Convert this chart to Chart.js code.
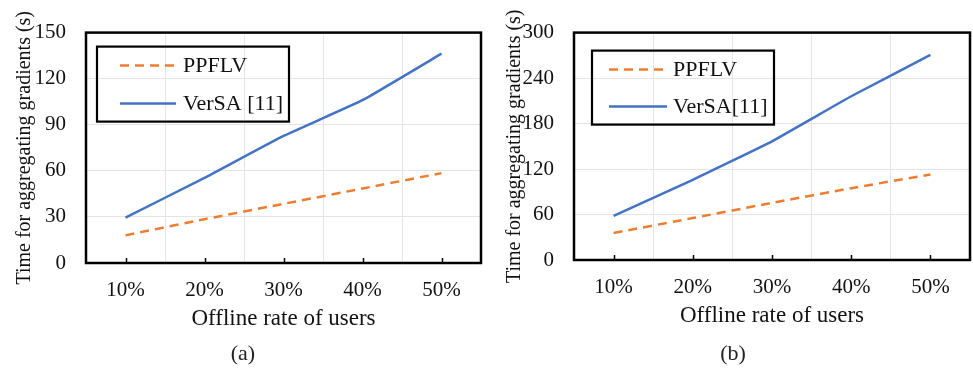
<!DOCTYPE html>
<html>
<head>
<meta charset="utf-8">
<script src="https://cdn.jsdelivr.net/npm/chart.js@4.4.0/dist/chart.umd.min.js"></script>
<style>
  body { margin: 0; background: #fff; }
  .wrap { position: absolute; top: 0; height: 370px; }
  .cap { position: absolute; top: 340px; width: 40px; text-align: center; font: 22px "Liberation Serif", serif; color: #222; }
</style>
</head>
<body>
<div class="wrap" style="left:0;width:486px"><canvas id="chartA"></canvas></div>
<div class="wrap" style="left:490px;width:483px"><canvas id="chartB"></canvas></div>
<div class="cap" style="left:223px">(a)</div>
<div class="cap" style="left:713px">(b)</div>
<script>
const categories = ['10%', '20%', '30%', '40%', '50%'];

// (a)
const ppflvA = [18, 28.5, 38.5, 48.5, 58.5];
const versaA = [29.6, 55.4, 82.7, 106, 136.3];
// (b)
const ppflvB = [35.7, 55.3, 75.4, 94.7, 112.8];
const versaB = [58.2, 105.8, 156.6, 216, 270.6];

const ORANGE = '#ED7D31';
const BLUE = '#4472C4';
const SERIF = '"Liberation Serif", "Times New Roman", serif';

/* Frame round the plot + small ticks at category centres + boxed legend */
const framePlugin = {
    id: 'frame',
    afterDraw(chart, args, opts) {
        const ctx = chart.ctx;
        const a = chart.chartArea;
        const x = chart.scales.x;
        ctx.save();
        ctx.strokeStyle = '#000';
        ctx.lineWidth = 1.5;
        x.ticks.forEach((t, i) => {
            const px = Math.round(x.getPixelForTick(i)) + 0.5;
            ctx.beginPath();
            ctx.moveTo(px, a.bottom);
            ctx.lineTo(px, a.bottom - 5);
            ctx.stroke();
        });
        ctx.lineWidth = 2.5;
        ctx.strokeRect(a.left, a.top, a.right - a.left, a.bottom - a.top);

        // legend
        const lg = opts.legend;
        const bx = a.left + lg.dx, by = a.top + lg.dy;
        ctx.lineWidth = 2.2;
        ctx.strokeRect(bx, by, lg.w, lg.h);
        ctx.font = '22px ' + SERIF;
        ctx.textBaseline = 'middle';
        ctx.fillStyle = '#111';
        chart.data.datasets.forEach((ds, i) => {
            const y = by + lg.rows[i];
            ctx.beginPath();
            ctx.strokeStyle = ds.borderColor;
            ctx.lineWidth = 2.5;
            ctx.setLineDash(ds.borderDash || []);
            ctx.moveTo(bx + lg.lineX, y);
            ctx.lineTo(bx + lg.lineX + lg.lineW, y);
            ctx.stroke();
            ctx.setLineDash([]);
            ctx.fillText(ds.label, bx + lg.textX, y + 1);
        });
        ctx.restore();
    }
};

function makeChart(id, ppflv, versa, cfg) {
    new Chart(document.getElementById(id), {
        type: 'line',
        data: {
            labels: categories,
            datasets: [
                {
                    label: 'PPFLV',
                    data: ppflv,
                    borderColor: ORANGE,
                    borderWidth: 2.5,
                    borderDash: [9, 6],
                    pointRadius: 0,
                    tension: 0.1
                },
                {
                    label: cfg.versaLabel,
                    data: versa,
                    borderColor: BLUE,
                    borderWidth: 2.5,
                    pointRadius: 0,
                    tension: 0.1
                }
            ]
        },
        options: {
            responsive: true,
            maintainAspectRatio: false,
            animation: false,
            layout: { padding: { top: cfg.top, right: cfg.right, left: 0, bottom: 0 } },
            plugins: {
                legend: { display: false },
                tooltip: { enabled: false },
                frame: { legend: cfg.legend }
            },
            scales: {
                x: {
                    offset: true,
                    grid: { offset: true, color: '#e4e4e4', drawTicks: false },
                    border: { display: false },
                    ticks: { color: '#111', font: { family: SERIF, size: 21 }, padding: 15 },
                    title: {
                        display: true,
                        text: 'Offline rate of users',
                        color: '#111',
                        font: { family: SERIF, size: 23 },
                        padding: { top: 0, bottom: cfg.xTitlePad }
                    },
                    afterFit: s => { s.height = cfg.xHeight; }
                },
                y: {
                    min: 0,
                    max: cfg.max,
                    ticks: { stepSize: cfg.step, color: '#111', font: { family: SERIF, size: 21 }, padding: 20 },
                    grid: { color: '#e4e4e4', drawTicks: false },
                    border: { display: false },
                    title: {
                        display: true,
                        text: 'Time for aggregating gradients (s)',
                        color: '#111',
                        font: { family: SERIF, size: 20 },
                        padding: { top: 13, bottom: 0 }
                    },
                    afterFit: s => { s.width = cfg.yWidth; }
                }
            }
        },
        plugins: [framePlugin]
    });
}

makeChart('chartA', ppflvA, versaA, {
    versaLabel: 'VerSA [11]',
    max: 150, step: 30,
    top: 25, right: 5, xHeight: 107, yWidth: 86, xTitlePad: 37,
    legend: { dx: 11, dy: 14, w: 192, h: 75, rows: [19, 57], lineX: 23, lineW: 56, textX: 86 }
});

makeChart('chartB', ppflvB, versaB, {
    versaLabel: 'VerSA[11]',
    max: 300, step: 60,
    top: 16, right: 3, xHeight: 110, yWidth: 84, xTitlePad: 40,
    legend: { dx: 18, dy: 18, w: 182, h: 74, rows: [19, 56], lineX: 17, lineW: 58, textX: 81 }
});
</script>
</body>
</html>
